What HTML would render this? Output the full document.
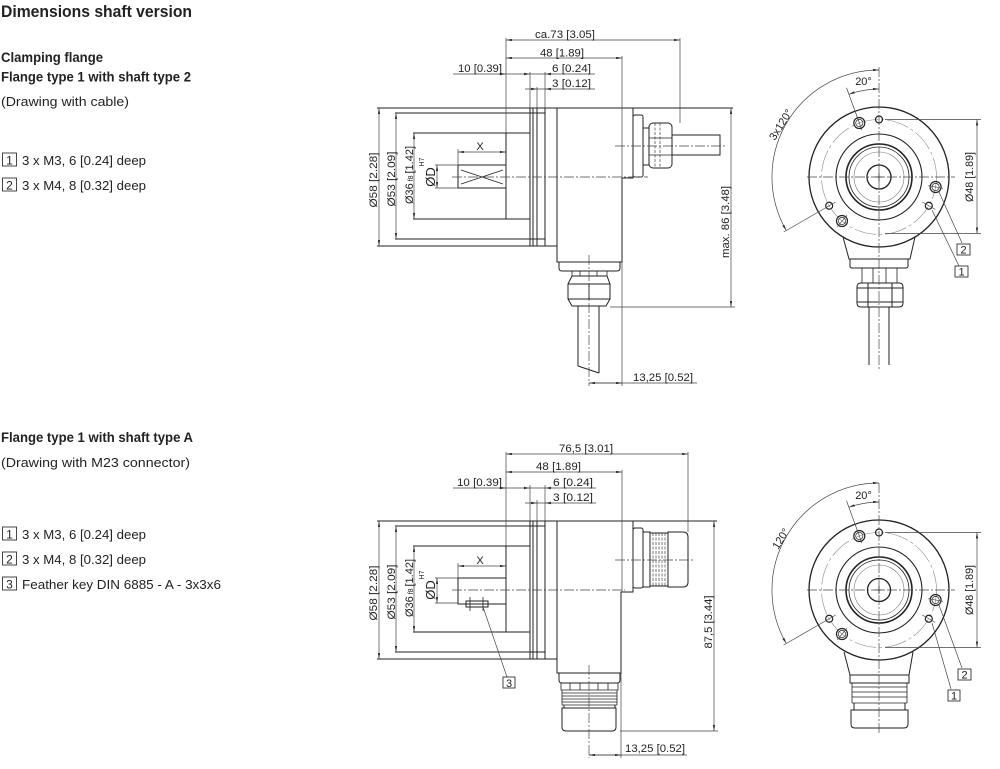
<!DOCTYPE html>
<html><head><meta charset="utf-8">
<style>
html,body{margin:0;padding:0;background:#fff;}
svg{display:block;}
text{font-family:"Liberation Sans",Arial,sans-serif;fill:#222;}
</style></head><body>
<svg width="1000" height="769" viewBox="0 0 1000 769" xmlns="http://www.w3.org/2000/svg">
<defs>
<marker id="a" viewBox="0 0 10 4" refX="10" refY="2" markerWidth="6" markerHeight="2.4" orient="auto-start-reverse" markerUnits="userSpaceOnUse"><path d="M0,0 L10,2 L0,4 z" fill="#333"/></marker>
</defs>

<!-- LEFT TEXT -->
<g font-weight="bold">
<text x="1" y="17" font-size="17" textLength="191" lengthAdjust="spacingAndGlyphs">Dimensions shaft version</text>
<text x="1" y="62" font-size="13.5" textLength="102" lengthAdjust="spacingAndGlyphs">Clamping flange</text>
<text x="1" y="81.5" font-size="13.5" textLength="190" lengthAdjust="spacingAndGlyphs">Flange type 1 with shaft type 2</text>
<text x="1" y="442" font-size="13.5" textLength="192" lengthAdjust="spacingAndGlyphs">Flange type 1 with shaft type A</text>
</g>
<g font-size="13">
<text x="1" y="106" textLength="128" lengthAdjust="spacingAndGlyphs">(Drawing with cable)</text>
<text x="1" y="467" textLength="189" lengthAdjust="spacingAndGlyphs">(Drawing with M23 connector)</text>
<text x="22" y="165" textLength="124" lengthAdjust="spacingAndGlyphs">3 x M3, 6 [0.24] deep</text>
<text x="22" y="190" textLength="124" lengthAdjust="spacingAndGlyphs">3 x M4, 8 [0.32] deep</text>
<text x="22" y="539" textLength="124" lengthAdjust="spacingAndGlyphs">3 x M3, 6 [0.24] deep</text>
<text x="22" y="564" textLength="124" lengthAdjust="spacingAndGlyphs">3 x M4, 8 [0.32] deep</text>
<text x="22" y="589" textLength="199" lengthAdjust="spacingAndGlyphs">Feather key DIN 6885 - A - 3x3x6</text>
</g>
<g fill="none" stroke="#333" stroke-width="0.9">
<rect x="2.5" y="153" width="14" height="13"/>
<rect x="2.5" y="178" width="14" height="13"/>
<rect x="2.5" y="527" width="14" height="13"/>
<rect x="2.5" y="552" width="14" height="13"/>
<rect x="2.5" y="577" width="14" height="13"/>
</g>
<g font-size="12" text-anchor="middle">
<text x="9.5" y="164.5">1</text>
<text x="9.5" y="189.5">2</text>
<text x="9.5" y="538.5">1</text>
<text x="9.5" y="563.5">2</text>
<text x="9.5" y="588.5">3</text>
</g>

<!-- ========== TOP SIDE VIEW ========== -->
<g fill="none" stroke="#222" stroke-width="1">
<path d="M377,108 H733 M377,246 H557"/>
<path d="M395,113 H545 M395,239 H545"/>
<path d="M413,133 H530 M413,219 H530"/>
<path d="M506,133 V219"/>
<path d="M530,108 V246 M533,108 V246 M537,108 V246 M545,108 V246"/>
<!-- body -->
<path d="M557,108 V262 H622 V178 H633 V108"/>
<path d="M559,262 V268 Q559,271 562,271 H617 Q620,271 620,268 V262"/>
<path d="M572,271 V276 M607,271 V276 M580,271 V276 M597,271 V276" stroke-width="0.8"/>
<path d="M572,276 H607 L610,284 V299 L606,306 H572 L568,299 V284 Z M568,284 H610 M568,299 H610 M589,284 V299"/>
<path d="M578,306 V366 M599,306 V373 M578,366 L599,373"/>
<!-- gland right -->
<rect x="633" y="115" width="10" height="62" rx="2"/>
<rect x="643" y="128" width="6" height="37"/>
<rect x="649" y="123" width="23" height="45" rx="4"/>
<path d="M649,138 H672 M649,155 H672" stroke-width="0.8"/>
<path d="M655,123 V168 M660,123 V168" stroke-width="0.6" stroke-dasharray="3 1.5"/>
<path d="M672,135 H720 V155 H672"/>
<!-- hollow shaft -->
<rect x="458" y="165" width="48" height="23"/>
<path d="M461,170 L503,184 M461,184 L503,170" stroke-width="0.8"/>
</g>
<g fill="none" stroke="#444" stroke-width="0.7">
<!-- ext lines -->
<path d="M506,38 V133 M530,72 V108 M537,87 V108 M545,72 V108 M622,56 V178 M680,38 V123"/>
<path d="M458,149 V165 M435,165 H458 M435,188 H458"/>
<path d="M610,307 H735 M622,262 V386 M589,383 H697"/>
<!-- centre lines -->
<path d="M452,177 H648 M615,146 H725 M589,255 V386" stroke-dasharray="10 2 2 2"/>
<!-- dims -->
<path d="M506,40 H680" marker-start="url(#a)" marker-end="url(#a)"/>
<path d="M506,58 H622" marker-start="url(#a)" marker-end="url(#a)"/>
<path d="M453,74 H595 M525,89 H595"/>
<path d="M379,108 V246" marker-start="url(#a)" marker-end="url(#a)"/>
<path d="M396,113 V239" marker-start="url(#a)" marker-end="url(#a)"/>
<path d="M414,133 V219" marker-start="url(#a)" marker-end="url(#a)"/>
<path d="M437,165 V188" marker-start="url(#a)" marker-end="url(#a)"/>
<path d="M458,152 H506" marker-start="url(#a)" marker-end="url(#a)"/>
<path d="M731,108 V307" marker-start="url(#a)" marker-end="url(#a)"/>
<path d="M589,383 H622" marker-start="url(#a)" marker-end="url(#a)"/>
</g>
<g fill="#333">
<polygon points="500,72.8 506,74 500,75.2"/>
<polygon points="524,72.8 530,74 524,75.2"/>
<polygon points="551,72.8 545,74 551,75.2"/>
<polygon points="531,87.8 537,89 531,90.2"/>
<polygon points="551,87.8 545,89 551,90.2"/>
</g>
<g font-size="11" fill="#333">
<text x="535" y="38" textLength="60" lengthAdjust="spacingAndGlyphs">ca.73 [3.05]</text>
<text x="540" y="56.5" textLength="44" lengthAdjust="spacingAndGlyphs">48 [1.89]</text>
<text x="458" y="72" textLength="44" lengthAdjust="spacingAndGlyphs">10 [0.39]</text>
<text x="552" y="72" textLength="39" lengthAdjust="spacingAndGlyphs">6 [0.24]</text>
<text x="552" y="87" textLength="39" lengthAdjust="spacingAndGlyphs">3 [0.12]</text>
<text x="480" y="150" text-anchor="middle">X</text>
<text x="633" y="381" textLength="60" lengthAdjust="spacingAndGlyphs">13,25 [0.52]</text>
<text transform="translate(377,180) rotate(-90)" text-anchor="middle" textLength="55" lengthAdjust="spacingAndGlyphs">Ø58 [2.28]</text>
<text transform="translate(395,179) rotate(-90)" text-anchor="middle" textLength="55" lengthAdjust="spacingAndGlyphs">Ø53 [2.09]</text>
<text transform="translate(413,175) rotate(-90)" text-anchor="middle">Ø36<tspan font-size="7"> f8 </tspan>[1.42]</text>
<text transform="translate(435,177) rotate(-90)" text-anchor="middle" font-size="13">ØD</text>
<text transform="translate(424,162) rotate(-90)" text-anchor="middle" font-size="7">H7</text>
<text transform="translate(729,222) rotate(-90)" text-anchor="middle" textLength="72" lengthAdjust="spacingAndGlyphs">max. 86 [3.48]</text>
</g>

<!-- ========== BOTTOM SIDE VIEW ========== -->
<g fill="none" stroke="#222" stroke-width="1">
<path d="M377,521 H717 M377,659 H557"/>
<path d="M395,526 H545 M395,652 H545"/>
<path d="M413,546 H530 M413,632 H530"/>
<path d="M506,546 V632"/>
<path d="M530,521 V659 M533,521 V659 M537,521 V659 M545,521 V659"/>
<!-- body -->
<path d="M557,521 V673 H621 V592 H633 V521"/>
<!-- M23 right -->
<rect x="633" y="528" width="10" height="60" rx="2"/>
<rect x="643" y="532" width="7" height="55"/>
<path d="M650,533 H668 M650,586 H668"/>
<path d="M653,533 V586 M656,533 V586 M659,533 V586 M662,533 V586 M665,533 V586" stroke-width="0.6" stroke-dasharray="3 1.5"/>
<path d="M668,532 H683 Q688,532 688,537 V582 Q688,587 683,587 H668 Z"/>
<!-- bottom connector -->
<path d="M559,673 V680 Q559,683 562,683 H617 Q620,683 620,680 V673"/>
<path d="M561,683 V690 H618 V683 M570,683 V690 M580,683 V690 M598,683 V690 M608,683 V690" stroke-width="0.8"/>
<path d="M562,690 V705 M617,690 V705 M562,693 H617 M562,696 H617 M562,699 H617 M562,702 H617 M562,705 H617" stroke-width="0.8"/>
<path d="M564,705 V708 M615,705 V708"/>
<path d="M562,708 H616 V727 Q616,731 612,731 H566 Q562,731 562,727 Z"/>
<!-- solid shaft -->
<rect x="458" y="578" width="48" height="26"/>
<rect x="466" y="601" width="22" height="6"/>
<path d="M470,597 V611 M483,597 V611" stroke-width="0.8"/>
</g>
<g fill="none" stroke="#444" stroke-width="0.7">
<path d="M506,452 V546 M530,485 V521 M537,500 V521 M545,485 V521 M622,470 V592 M688,452 V532"/>
<path d="M458,563 V578 M435,578 H458 M435,603 H458"/>
<path d="M620,731 H718 M621,673 V758 M589,755 H687"/>
<path d="M452,590 H625 M615,560 H695 M589,665 V758" stroke-dasharray="10 2 2 2"/>
<path d="M506,454 H688" marker-start="url(#a)" marker-end="url(#a)"/>
<path d="M506,472 H622" marker-start="url(#a)" marker-end="url(#a)"/>
<path d="M453,488 H596 M525,503 H596"/>
<path d="M379,521 V659" marker-start="url(#a)" marker-end="url(#a)"/>
<path d="M396,526 V652" marker-start="url(#a)" marker-end="url(#a)"/>
<path d="M414,546 V632" marker-start="url(#a)" marker-end="url(#a)"/>
<path d="M437,578 V603" marker-start="url(#a)" marker-end="url(#a)"/>
<path d="M458,566 H506" marker-start="url(#a)" marker-end="url(#a)"/>
<path d="M714,521 V731" marker-start="url(#a)" marker-end="url(#a)"/>
<path d="M589,755 H621" marker-start="url(#a)" marker-end="url(#a)"/>
<path d="M483,607 L507,677"/>
<rect x="503" y="677" width="12" height="11" stroke="#333" stroke-width="0.9"/>
</g>
<g fill="#333">
<polygon points="500,486.8 506,488 500,489.2"/>
<polygon points="524,486.8 530,488 524,489.2"/>
<polygon points="551,486.8 545,488 551,489.2"/>
<polygon points="531,501.8 537,503 531,504.2"/>
<polygon points="551,501.8 545,503 551,504.2"/>
</g>
<g font-size="11" fill="#333">
<text x="559" y="452" textLength="54" lengthAdjust="spacingAndGlyphs">76,5 [3.01]</text>
<text x="536" y="470" textLength="45" lengthAdjust="spacingAndGlyphs">48 [1.89]</text>
<text x="457" y="486" textLength="45" lengthAdjust="spacingAndGlyphs">10 [0.39]</text>
<text x="553" y="486" textLength="40" lengthAdjust="spacingAndGlyphs">6 [0.24]</text>
<text x="553" y="501" textLength="40" lengthAdjust="spacingAndGlyphs">3 [0.12]</text>
<text x="480" y="564" text-anchor="middle">X</text>
<text x="625" y="752" textLength="60" lengthAdjust="spacingAndGlyphs">13,25 [0.52]</text>
<text x="509" y="687" text-anchor="middle">3</text>
<text transform="translate(377,593) rotate(-90)" text-anchor="middle" textLength="55" lengthAdjust="spacingAndGlyphs">Ø58 [2.28]</text>
<text transform="translate(395,592) rotate(-90)" text-anchor="middle" textLength="55" lengthAdjust="spacingAndGlyphs">Ø53 [2.09]</text>
<text transform="translate(413,588) rotate(-90)" text-anchor="middle">Ø36<tspan font-size="7"> f8 </tspan>[1.42]</text>
<text transform="translate(435,590) rotate(-90)" text-anchor="middle" font-size="13">ØD</text>
<text transform="translate(424,575) rotate(-90)" text-anchor="middle" font-size="7">H7</text>
<text transform="translate(712,622) rotate(-90)" text-anchor="middle" textLength="53" lengthAdjust="spacingAndGlyphs">87,5 [3.44]</text>
</g>

<!-- ========== TOP FRONT VIEW ========== -->
<g transform="translate(879,177)">
<g fill="none" stroke="#222">
<circle r="70" stroke-width="1.3"/>
<circle r="57.5" stroke="#888" stroke-width="0.6" stroke-dasharray="22 3 3 3"/>
<circle r="43" stroke-width="1.1"/>
<circle r="33" stroke-width="1.6"/>
<circle r="30" stroke-width="0.8"/>
<circle r="25" stroke="#777" stroke-width="0.6"/>
<circle r="12" stroke-width="1.3"/>
<path d="M-4,0 H4 M0,-4 V4" stroke-width="0.8"/>
<!-- holes -->
<circle cx="0" cy="-57.5" r="3.5" stroke-width="1.2"/>
<circle cx="49.8" cy="28.75" r="3.5" stroke-width="1.2"/>
<circle cx="-49.8" cy="28.75" r="3.5" stroke-width="1.2"/>
<circle cx="-19.7" cy="-54" r="5.5" stroke-width="1.2"/>
<circle cx="-19.7" cy="-54" r="3.6" stroke-width="0.7"/>
<circle cx="56.6" cy="10" r="5.5" stroke-width="1.2"/>
<circle cx="56.6" cy="10" r="3.6" stroke-width="0.7"/>
<circle cx="-37" cy="44" r="5.5" stroke-width="1.2"/>
<circle cx="-37" cy="44" r="3.6" stroke-width="0.7"/>
<!-- housing -->
<path d="M-36,60 L-30,82 H31 L36,60"/>
<path d="M-29,82 V89 Q-29,91 -27,91 H27 Q29,91 29,89 V82"/>
<path d="M-17,91 V106 M18,91 V106 M-6,91 V106 M7,91 V106" stroke-width="0.8"/>
<path d="M-18,106 H20 Q24,106 24,110 V126 Q24,130 20,130 H-18 Q-22,130 -22,126 V110 Q-22,106 -18,106 Z M-22,111 H24 M-22,125 H24 M-11,106 V130 M13,106 V130"/>
<path d="M-10,130 V188 M10,130 V188"/>
</g>
<g fill="none" stroke="#444" stroke-width="0.7">
<path d="M-72,0 H76 M0,-110 V193" stroke-dasharray="10 2 2 2"/>
<path d="M49.2,8.7 L64,11.3 M43.3,25 L56.3,32.5 M-32.1,38.3 L-41.8,49.8"/>
<path d="M-17.1,-47 L-32.5,-89.3 M-43.3,25 L-95.3,55"/>
<path d="M-30.1,-82.7 A88,88 0 0 1 0,-88" marker-start="url(#a)" marker-end="url(#a)"/>
<path d="M0,-107 A107,107 0 0 0 -92.7,53.5" marker-start="url(#a)" marker-end="url(#a)"/>
<path d="M6,-57.5 H102 M6,56.5 H102"/>
<path d="M98,-57.5 V56.5" marker-start="url(#a)" marker-end="url(#a)"/>
<path d="M60,15 L83,66 M53,33 L80,89"/>
<rect x="78" y="67" width="13" height="11" stroke="#333" stroke-width="0.9"/>
<rect x="76" y="89" width="13" height="11" stroke="#333" stroke-width="0.9"/>
</g>
<g font-size="11" fill="#333">
<text x="-15.5" y="-92" text-anchor="middle">20°</text>
<text transform="translate(-98.5,-52.5) rotate(-58)" text-anchor="middle" y="4" textLength="34" lengthAdjust="spacingAndGlyphs">3x120°</text>
<text transform="translate(94,0) rotate(-90)" text-anchor="middle" textLength="50" lengthAdjust="spacingAndGlyphs">Ø48 [1.89]</text>
<text x="84.5" y="76.5" text-anchor="middle">2</text>
<text x="82.5" y="98.5" text-anchor="middle">1</text>
</g>
</g>

<!-- ========== BOTTOM FRONT VIEW ========== -->
<g transform="translate(879,590)">
<g fill="none" stroke="#222">
<circle r="70" stroke-width="1.3"/>
<circle r="57.5" stroke="#888" stroke-width="0.6" stroke-dasharray="22 3 3 3"/>
<circle r="43" stroke-width="1.1"/>
<circle r="33" stroke-width="1.6"/>
<circle r="30" stroke-width="0.8"/>
<circle r="25" stroke="#777" stroke-width="0.6"/>
<circle r="11.5" stroke-width="1.3"/>
<path d="M-4,0 H4 M0,-4 V4" stroke-width="0.8"/>
<circle cx="0" cy="-57.5" r="3.5" stroke-width="1.2"/>
<circle cx="49.8" cy="28.75" r="3.5" stroke-width="1.2"/>
<circle cx="-49.8" cy="28.75" r="3.5" stroke-width="1.2"/>
<circle cx="-19.7" cy="-54" r="5.5" stroke-width="1.2"/>
<circle cx="-19.7" cy="-54" r="3.6" stroke-width="0.7"/>
<circle cx="56.6" cy="10" r="5.5" stroke-width="1.2"/>
<circle cx="56.6" cy="10" r="3.6" stroke-width="0.7"/>
<circle cx="-37" cy="44" r="5.5" stroke-width="1.2"/>
<circle cx="-37" cy="44" r="3.6" stroke-width="0.7"/>
<!-- housing -->
<path d="M-35,62 L-29,85 H30 L34,62"/>
<path d="M-29,85 V93 H30 V85"/>
<path d="M-27,93 V113 M28,93 V113 M-27,97 H28 M-27,102 H28 M-27,107 H28 M-27,113 H28" stroke-width="0.8"/>
<path d="M-25,113 V120 M26,113 V120"/>
<path d="M-28,120 H29 V134 Q29,138 25,138 H-24 Q-28,138 -28,134 Z"/>
</g>
<g fill="none" stroke="#444" stroke-width="0.7">
<path d="M-72,0 H76 M0,-107 V143" stroke-dasharray="10 2 2 2"/>
<path d="M49.2,8.7 L64,11.3 M43.3,25 L56.3,32.5 M-32.1,38.3 L-41.8,49.8"/>
<path d="M-17.1,-47 L-32.5,-89.3 M-43.3,25 L-95.3,55"/>
<path d="M-30.1,-82.7 A88,88 0 0 1 0,-88" marker-start="url(#a)" marker-end="url(#a)"/>
<path d="M0,-107 A107,107 0 0 0 -92.7,53.5" marker-start="url(#a)" marker-end="url(#a)"/>
<path d="M6,-57.5 H102 M6,57.5 H102"/>
<path d="M98,-57.5 V57.5" marker-start="url(#a)" marker-end="url(#a)"/>
<path d="M60,15 L83,78 M53,33 L72,99"/>
<rect x="79" y="79" width="13" height="11" stroke="#333" stroke-width="0.9"/>
<rect x="69" y="100" width="12" height="11" stroke="#333" stroke-width="0.9"/>
</g>
<g font-size="11" fill="#333">
<text x="-15.5" y="-91" text-anchor="middle">20°</text>
<text transform="translate(-98.5,-51.5) rotate(-58)" text-anchor="middle" y="4" textLength="22" lengthAdjust="spacingAndGlyphs">120°</text>
<text transform="translate(94,0) rotate(-90)" text-anchor="middle" textLength="50" lengthAdjust="spacingAndGlyphs">Ø48 [1.89]</text>
<text x="85.5" y="88.5" text-anchor="middle">2</text>
<text x="75" y="109.5" text-anchor="middle">1</text>
</g>
</g>
</svg>
</body></html>
